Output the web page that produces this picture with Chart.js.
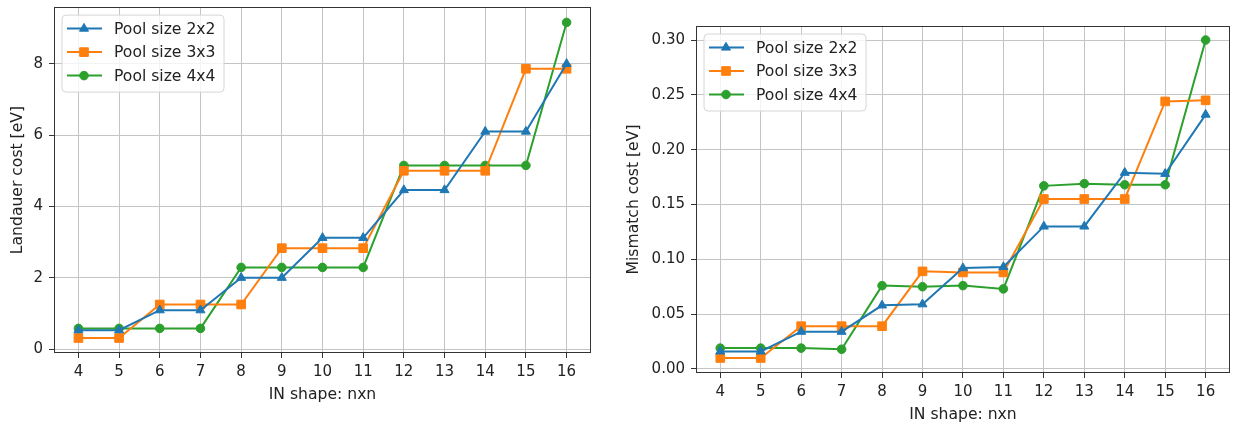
<!DOCTYPE html>
<html>
<head>
<meta charset="utf-8">
<script src="https://cdn.jsdelivr.net/npm/chart.js@4.4.0/dist/chart.umd.min.js"></script>
<style>
  body { margin: 0; background: #fff; }
  #left { position: absolute; left: 0; top: 0; width: 620px; height: 425px; }
  #right { position: absolute; left: 620px; top: 0; width: 617px; height: 425px; }
</style>
</head>
<body>
<div id="left"><canvas id="landauer"></canvas></div>
<div id="right"><canvas id="mismatch"></canvas></div>
<script>
// IN shape n (n x n)
var shapes = [4, 5, 6, 7, 8, 9, 10, 11, 12, 13, 14, 15, 16];
var poolLabels = ['Pool size 2x2', 'Pool size 3x3', 'Pool size 4x4'];

// Landauer cost [eV]
var landauer2x2 = [0.53, 0.53, 1.09, 1.09, 2.0, 2.0, 3.12, 3.12, 4.46, 4.46, 6.1, 6.1, 8.0];
var landauer3x3 = [0.31, 0.31, 1.25, 1.25, 1.25, 2.83, 2.83, 2.83, 5.0, 5.0, 5.0, 7.86, 7.86];
var landauer4x4 = [0.58, 0.58, 0.58, 0.58, 2.29, 2.29, 2.29, 2.29, 5.15, 5.15, 5.15, 5.15, 9.16];

// Mismatch cost [eV]
var mismatch2x2 = [0.016, 0.016, 0.034, 0.034, 0.058, 0.059, 0.092, 0.093, 0.130, 0.130, 0.179, 0.178, 0.232];
var mismatch3x3 = [0.010, 0.010, 0.039, 0.039, 0.039, 0.089, 0.088, 0.088, 0.155, 0.155, 0.155, 0.244, 0.245];
var mismatch4x4 = [0.019, 0.019, 0.019, 0.018, 0.076, 0.075, 0.076, 0.073, 0.167, 0.169, 0.168, 0.168, 0.300];

var landauerTicks = [0, 2, 4, 6, 8];
var mismatchTicks = [0, 0.05, 0.10, 0.15, 0.20, 0.25, 0.30];

var colors = ['#1f77b4', '#ff7f0e', '#2ca02c'];
var markers = ['triangle', 'rect', 'circle'];
var markerRadius = [5.2, 6.1, 4.3];

var FONT = 'DejaVu Sans';
var FSIZE = 15;
var LSIZE = 15.6; // axis titles and legend look a touch larger
var TEXT = '#222';
var GRID = '#c4c4c4';

function points(values) {
  return shapes.map(function (n, i) { return { x: n, y: values[i] }; });
}

function makeDatasets(series) {
  return series.map(function (vals, i) {
    return {
      label: poolLabels[i],
      data: points(vals),
      borderColor: colors[i],
      backgroundColor: colors[i],
      borderWidth: 2,
      pointStyle: markers[i],
      pointRadius: markerRadius[i],
      pointHoverRadius: markerRadius[i],
      pointBorderWidth: 1,
      pointBorderColor: colors[i],
      pointBackgroundColor: colors[i],
      tension: 0
    };
  });
}

// marker for the legend, same shapes as the points
function drawMarker(ctx, style, x, y, r) {
  ctx.beginPath();
  if (style === 'triangle') {
    ctx.moveTo(x, y - r);
    ctx.lineTo(x + r * Math.cos(Math.PI / 6), y + r * 0.5);
    ctx.lineTo(x - r * Math.cos(Math.PI / 6), y + r * 0.5);
    ctx.closePath();
  } else if (style === 'rect') {
    var s = r * Math.SQRT1_2;
    ctx.rect(x - s, y - s, 2 * s, 2 * s);
  } else {
    ctx.arc(x, y, r, 0, Math.PI * 2);
  }
  ctx.fill();
  ctx.stroke();
}

// frame round the plot area and a matplotlib style legend
var frameAndLegend = {
  id: 'frameAndLegend',
  afterDatasetsDraw: function (chart) {
    var ctx = chart.ctx;
    var a = chart.chartArea;
    ctx.save();
    ctx.strokeStyle = '#333';
    ctx.lineWidth = 1;
    ctx.strokeRect(Math.round(a.left) + 0.5, Math.round(a.top) + 0.5,
      Math.round(a.right - a.left) - 1, Math.round(a.bottom - a.top) - 1);

    var bx = a.left + 8, by = a.top + 8, bw = 162, bh = 77, rad = 4;
    ctx.beginPath();
    ctx.moveTo(bx + rad, by);
    ctx.arcTo(bx + bw, by, bx + bw, by + bh, rad);
    ctx.arcTo(bx + bw, by + bh, bx, by + bh, rad);
    ctx.arcTo(bx, by + bh, bx, by, rad);
    ctx.arcTo(bx, by, bx + bw, by, rad);
    ctx.closePath();
    ctx.fillStyle = 'rgba(255,255,255,0.8)';
    ctx.fill();
    ctx.strokeStyle = '#d6d6d6';
    ctx.stroke();

    ctx.font = LSIZE + 'px "' + FONT + '"';
    ctx.textBaseline = 'middle';
    ctx.textAlign = 'left';
    chart.data.datasets.forEach(function (ds, i) {
      var y = by + 13.5 + i * 23.5;
      ctx.strokeStyle = ds.borderColor;
      ctx.fillStyle = ds.borderColor;
      ctx.lineWidth = 2;
      ctx.beginPath();
      ctx.moveTo(bx + 5, y);
      ctx.lineTo(bx + 40, y);
      ctx.stroke();
      ctx.lineWidth = 1;
      drawMarker(ctx, ds.pointStyle, bx + 22, y, ds.pointRadius);
      ctx.fillStyle = TEXT;
      ctx.fillText(ds.label, bx + 52, y + 1);
    });
    ctx.restore();
  }
};

function makeChart(canvasId, series, yTitle, yTicks, yMin, yMax, cfg) {
  return new Chart(document.getElementById(canvasId), {
    type: 'line',
    data: { datasets: makeDatasets(series) },
    options: {
      responsive: true,
      maintainAspectRatio: false,
      animation: false,
      layout: { padding: { left: 0, right: cfg.padRight, top: cfg.padTop, bottom: 0 } },
      plugins: { legend: { display: false }, tooltip: { enabled: false } },
      scales: {
        x: {
          type: 'linear',
          min: 3.4,
          max: 16.6,
          afterBuildTicks: function (s) { s.ticks = shapes.map(function (v) { return { value: v }; }); },
          afterFit: function (s) { s.height = cfg.xHeight; s.paddingLeft = 0; s.paddingRight = 0; },
          grid: { color: GRID, lineWidth: 1, tickLength: 5, tickColor: '#333' },
          border: { display: false },
          ticks: {
            color: TEXT, padding: 5, maxRotation: 0, autoSkip: false,
            font: { family: FONT, size: FSIZE },
            callback: function (v) { return String(v); }
          },
          title: {
            display: true, text: 'IN shape: nxn', color: TEXT,
            font: { family: FONT, size: LSIZE },
            padding: { top: 0, bottom: cfg.xTitlePad }
          }
        },
        y: {
          type: 'linear',
          min: yMin,
          max: yMax,
          afterBuildTicks: function (s) { s.ticks = yTicks.map(function (v) { return { value: v }; }); },
          afterFit: function (s) { s.width = cfg.yWidth; s.paddingTop = 0; s.paddingBottom = 0; },
          grid: { color: GRID, lineWidth: 1, tickLength: 5, tickColor: '#333' },
          border: { display: false },
          ticks: {
            color: TEXT, padding: 6,
            font: { family: FONT, size: FSIZE },
            callback: function (v) { return cfg.decimals ? v.toFixed(cfg.decimals) : String(v); }
          },
          title: {
            display: true, text: yTitle, color: TEXT,
            font: { family: FONT, size: LSIZE },
            padding: { top: cfg.yTitlePad, bottom: 0 }
          }
        }
      }
    },
    plugins: [frameAndLegend]
  });
}

makeChart('landauer', [landauer2x2, landauer3x3, landauer4x4], 'Landauer cost [eV]',
  landauerTicks, -0.11, 9.59,
  { padRight: 29, padTop: 5, xHeight: 72, yWidth: 54, xTitlePad: 21, yTitlePad: 9, decimals: 0 });

makeChart('mismatch', [mismatch2x2, mismatch3x3, mismatch4x4], 'Mismatch cost [eV]',
  mismatchTicks, -0.0037, 0.3128,
  { padRight: 4, padTop: 26, xHeight: 52, yWidth: 76, xTitlePad: 1, yTitlePad: 5, decimals: 2 });
</script>
</body>
</html>
